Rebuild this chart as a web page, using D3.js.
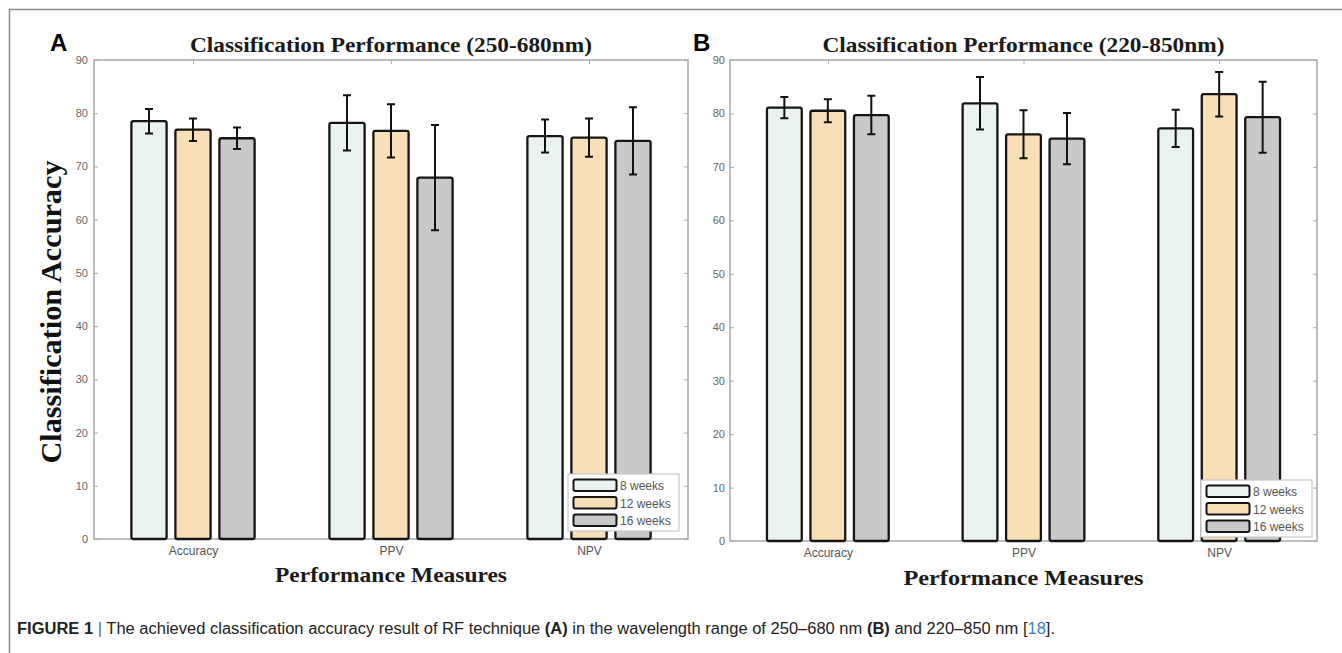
<!DOCTYPE html>
<html><head><meta charset="utf-8">
<script src="https://cdn.jsdelivr.net/npm/d3@7"></script>
<style>body{margin:0;background:#fff}svg{display:block}</style>
</head><body>
<svg id="chart" width="1342" height="653"></svg>
<script>
// ---- data ----
const categories = ["Accuracy", "PPV", "NPV"];
const seriesNames = ["8 weeks", "12 weeks", "16 weeks"];
const seriesColors = ["#eaf3ef", "#f9dfb8", "#c9c9c9"];
const yTickValues = [0, 10, 20, 30, 40, 50, 60, 70, 80, 90];
// values[category][series]
const valuesA = [[78.5, 76.9, 75.3], [78.2, 76.7, 67.9], [75.7, 75.4, 74.8]];
const errorsA = [[2.3, 2.1, 2.0], [5.2, 5.0, 9.9], [3.1, 3.6, 6.3]];
const valuesB = [[81.1, 80.5, 79.7], [81.9, 76.1, 75.3], [77.2, 83.6, 79.3]];
const errorsB = [[2.0, 2.15, 3.6], [4.9, 4.5, 4.8], [3.5, 4.15, 6.65]];
const titleA = "Classification Performance (250-680nm)";
const titleB = "Classification Performance (220-850nm)";
const yLabel = "Classification Accuracy";
const xLabel = "Performance Measures";

const svg = d3.select("#chart");

// figure frame
svg.append("line").attr("x1", 9).attr("x2", 1342).attr("y1", 9.5).attr("y2", 9.5)
  .attr("stroke", "#8a8a8a").attr("stroke-width", 1.5);
svg.append("line").attr("x1", 9.5).attr("x2", 9.5).attr("y1", 9).attr("y2", 653)
  .attr("stroke", "#8a8a8a").attr("stroke-width", 1.5);

function drawPanel(cfg) {
  const g = svg.append("g");
  const y = d3.scaleLinear().domain([0, 90]).range([cfg.bottom, cfg.top]);
  const x0 = d3.scaleBand().domain(categories).range([cfg.left, cfg.right]).paddingInner(0).paddingOuter(0);
  const u = x0.bandwidth();
  const x1 = d3.scaleBand().domain(seriesNames).range([-u / 3, u / 3]).paddingInner(0.2).paddingOuter(0.1);

  // axes box
  const axisColor = "#a8a8a8";
  g.append("rect").attr("x", cfg.left).attr("y", cfg.top)
    .attr("width", cfg.right - cfg.left).attr("height", cfg.bottom - cfg.top)
    .attr("fill", "none").attr("stroke", axisColor).attr("stroke-width", 1.5);

  // left axis
  const ax = g.append("g").attr("transform", `translate(${cfg.left},0)`)
    .call(d3.axisLeft(y).tickValues(yTickValues).tickSizeInner(-4).tickSizeOuter(0).tickPadding(cfg.tickPad));
  ax.select(".domain").remove();
  ax.selectAll(".tick line").attr("stroke", axisColor);
  ax.selectAll(".tick text").attr("fill", "#666").style("font-family", "Liberation Sans, Arial, sans-serif").style("font-size", "11px");
  // right ticks
  const ar = g.append("g").attr("transform", `translate(${cfg.right},0)`)
    .call(d3.axisRight(y).tickValues(yTickValues).tickSizeInner(-4).tickSizeOuter(0).tickFormat(""));
  ar.select(".domain").remove();
  ar.selectAll(".tick line").attr("stroke", axisColor);
  // top ticks
  const xc = d3.scaleOrdinal().domain(categories).range(categories.map(c => x0(c) + u / 2));
  const at = g.append("g").attr("transform", `translate(0,${cfg.top})`)
    .call(d3.axisTop(d3.scalePoint().domain(categories).range([xc(categories[0]), xc(categories[2])])).tickSizeInner(-4).tickSizeOuter(0).tickFormat(""));
  at.select(".domain").remove();
  at.selectAll(".tick line").attr("stroke", axisColor);
  // bottom labels
  const ab = g.append("g").attr("transform", `translate(0,${cfg.bottom})`)
    .call(d3.axisBottom(d3.scalePoint().domain(categories).range([xc(categories[0]), xc(categories[2])])).tickSizeInner(-4).tickSizeOuter(0).tickPadding(7));
  ab.select(".domain").remove();
  ab.selectAll(".tick line").attr("stroke", axisColor);
  ab.selectAll(".tick text").attr("fill", "#555").style("font-family", "Liberation Sans, Arial, sans-serif").style("font-size", "12px");

  // bars
  const data = [];
  categories.forEach((c, ci) => seriesNames.forEach((s, si) => {
    data.push({ c, s, si, v: cfg.values[ci][si], e: cfg.errors[ci][si] });
  }));
  const bars = g.append("g").selectAll("g").data(data).join("g")
    .attr("transform", d => `translate(${xc(d.c)},0)`);
  bars.append("rect")
    .attr("x", d => x1(d.s)).attr("width", x1.bandwidth())
    .attr("y", d => y(d.v)).attr("height", d => y(0) - y(d.v))
    .attr("rx", 2)
    .attr("fill", d => seriesColors[d.si]).attr("stroke", "#151515").attr("stroke-width", 2.3);
  // error bars
  const cap = 4;
  bars.append("path")
    .attr("d", d => {
      const cx = x1(d.s) + x1.bandwidth() / 2;
      const y1 = y(d.v + d.e), y2 = y(d.v - d.e);
      return `M${cx},${y1}V${y2}M${cx - cap},${y1}H${cx + cap}M${cx - cap},${y2}H${cx + cap}`;
    })
    .attr("fill", "none").attr("stroke", "#111").attr("stroke-width", 2);

  // legend
  const lw = 111, lh = 57;
  const lx = cfg.right - lw - cfg.legRight, ly = cfg.bottom - lh - cfg.legBottom;
  const lg = g.append("g").attr("transform", `translate(${lx},${ly})`);
  lg.append("rect").attr("width", lw).attr("height", lh).attr("fill", "#fff")
    .attr("stroke", "#c8c8c8").attr("stroke-width", 1.2);
  seriesNames.forEach((s, i) => {
    const ry = 5.5 + i * 17.5;
    lg.append("rect").attr("x", 5.5).attr("y", ry).attr("width", 43).attr("height", 11.5).attr("rx", 2)
      .attr("fill", seriesColors[i]).attr("stroke", "#151515").attr("stroke-width", 2);
    lg.append("text").attr("x", 52).attr("y", ry + 10.5).text(s)
      .attr("fill", "#555").style("font-family", "Liberation Sans, Arial, sans-serif").style("font-size", "12px");
  });

  // titles
  const cx = (cfg.left + cfg.right) / 2;
  g.append("text").attr("x", cx).attr("y", 52).attr("text-anchor", "middle").text(cfg.title)
    .attr("textLength", 402).attr("lengthAdjust", "spacingAndGlyphs")
    .style("font-family", "Liberation Serif, Times New Roman, serif").style("font-weight", "bold").style("font-size", "22px").attr("fill", "#1a1a1a");
  g.append("text").attr("x", cfg.letterX).attr("y", 51).text(cfg.letter)
    .style("font-family", "Liberation Sans, Arial, sans-serif").style("font-weight", "bold").style("font-size", "24px").attr("fill", "#000");
  g.append("text").attr("x", cx).attr("y", cfg.xLabelY).attr("text-anchor", "middle").text(xLabel)
    .attr("textLength", cfg.xLabelLen).attr("lengthAdjust", "spacingAndGlyphs")
    .style("font-family", "Liberation Serif, Times New Roman, serif").style("font-weight", "bold").style("font-size", "22px").attr("fill", "#1a1a1a");
  if (cfg.yLabel) {
    g.append("text").attr("transform", `translate(61,312) rotate(-90)`).attr("text-anchor", "middle").text(yLabel)
      .attr("textLength", 303).attr("lengthAdjust", "spacingAndGlyphs")
      .style("font-family", "Liberation Serif, Times New Roman, serif").style("font-weight", "bold").style("font-size", "29px").attr("fill", "#111");
  }
}

drawPanel({ left: 94, right: 688, top: 60, bottom: 539, values: valuesA, errors: errorsA, title: titleA,
  letter: "A", letterX: 50, tickPad: 6, legRight: 9, legBottom: 8, xLabelY: 582, xLabelLen: 232, yLabel: true });
drawPanel({ left: 730, right: 1317, top: 60, bottom: 541, values: valuesB, errors: errorsB, title: titleB,
  letter: "B", letterX: 693, tickPad: 5, legRight: 5, legBottom: 4, xLabelY: 585, xLabelLen: 240, yLabel: false });

// caption
const capText = svg.append("text").attr("x", 17).attr("y", 634)
  .attr("textLength", 1038).attr("lengthAdjust", "spacingAndGlyphs")
  .style("font-family", "Liberation Sans, Arial, sans-serif").style("font-size", "16px").attr("fill", "#222");
const parts = [
  ["FIGURE 1", "bold", "#222"], [" | ", "normal", "#666"],
  ["The achieved classification accuracy result of RF technique ", "normal", "#222"],
  ["(A)", "bold", "#222"], [" in the wavelength range of 250–680 nm ", "normal", "#222"],
  ["(B)", "bold", "#222"], [" and 220–850 nm [", "normal", "#222"], ["18", "normal", "#3b7dc4"], ["].", "normal", "#222"]
];
parts.forEach(p => capText.append("tspan").text(p[0]).style("font-weight", p[1]).attr("fill", p[2]));
</script>
</body></html>
